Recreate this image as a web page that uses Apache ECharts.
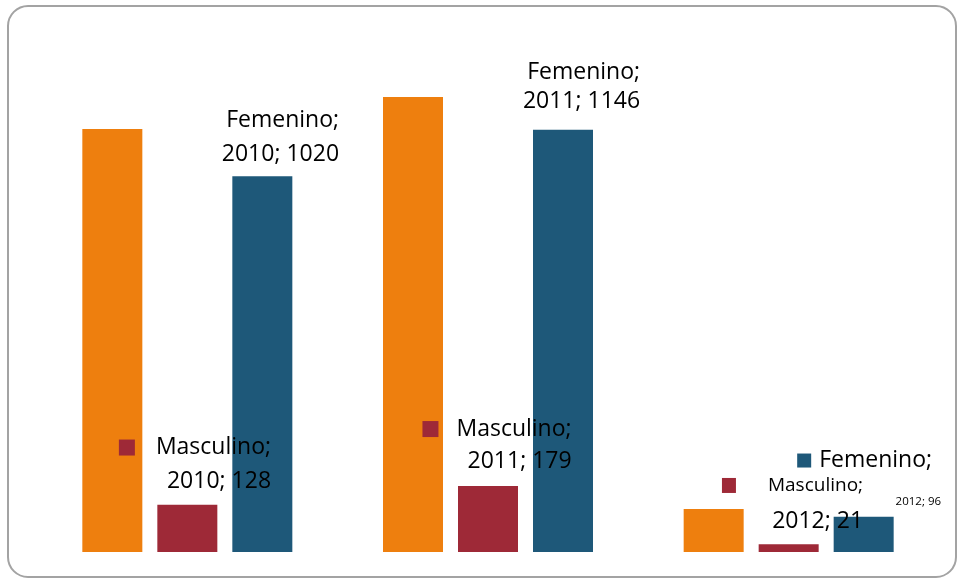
<!DOCTYPE html>
<html>
<head>
<meta charset="utf-8">
<script src="https://cdn.jsdelivr.net/npm/echarts@6/dist/echarts.min.js"></script>
<style>
html,body{margin:0;padding:0;background:#fff;}
#chart{width:959px;height:579px;}
</style>
</head>
<body>
<div id="chart"></div>
<script>
// ---- data ----
const categories = ['2010', '2011', '2012'];
const totalName = 'Total';
const masculinoName = 'Masculino';
const femeninoName = 'Femenino';
const totalValues = [1148, 1235, 117];
const masculinoValues = [128, 179, 21];
const femeninoValues = [1020, 1146, 96];

// ---- styles ----
const COL_ORANGE = '#ee7f0e';
const COL_RED = '#9e2937';
const COL_BLUE = '#1e5879';
const FONT = 'Open Sans';

function line1(name) { return name + ';'; }
function line2(cat, v) { return cat + '; ' + v; }

// label configs per data index (positions relative to bar top)
const femLabelCfg = [
  {
    offset: [76.7, -72.9],
    rich: { t: { fontSize: 23, lineHeight: 34, fontFamily: FONT, color: '#000' } },
    fmt: (n, c, v) => '{t|' + line1(n) + '}\n{t|' + line2(c, v) + '}'
  },
  {
    offset: [77.1, -71.9],
    rich: { t: { fontSize: 23, lineHeight: 29, fontFamily: FONT, color: '#000' } },
    fmt: (n, c, v) => '{t|' + line1(n) + '}\n{t|' + line2(c, v) + '}'
  },
  {
    offset: [77.4, -70.1],
    rich: {
      m: { width: 14, height: 14, backgroundColor: COL_BLUE },
      g: { width: 8 },
      t: { fontSize: 23, lineHeight: 28, fontFamily: FONT, color: '#000' },
      p: { width: 9 },
      s: { fontSize: 11.5, lineHeight: 54, fontFamily: FONT, color: '#000' }
    },
    fmt: (n, c, v) => '{m|}{g|}{t|' + line1(n) + '}{p|}\n{s|' + line2(c, v) + '}'
  }
];
const masLabelCfg = [
  {
    offset: [83.7, -74.3],
    rich: {
      m: { width: 16, height: 16, backgroundColor: COL_RED },
      g: { width: 21 },
      t: { fontSize: 23, lineHeight: 34, fontFamily: FONT, color: '#000' }
    },
    fmt: (n, c, v) => '{m|}{g|}{t|' + line1(n) + '}\n{t|' + line2(c, v) + '}'
  },
  {
    offset: [83.6, -73.25],
    rich: {
      m: { width: 16, height: 16, backgroundColor: COL_RED },
      g: { width: 18 },
      t: { fontSize: 23, lineHeight: 32.5, fontFamily: FONT, color: '#000' }
    },
    fmt: (n, c, v) => '{m|}{g|}{t|' + line1(n) + '}\n{t|' + line2(c, v) + '}'
  },
  {
    offset: [74.4, -76.8],
    rich: {
      m: { width: 14, height: 15, backgroundColor: COL_RED },
      g: { width: 32 },
      t: { fontSize: 19, lineHeight: 36, fontFamily: FONT, color: '#000' },
      u: { fontSize: 23, lineHeight: 36, fontFamily: FONT, color: '#000' }
    },
    fmt: (n, c, v) => '{m|}{g|}{t|' + line1(n) + '}\n{u|' + line2(c, v) + '}'
  }
];

function buildData(values, name, cfgs) {
  return values.map((v, i) => {
    const cfg = cfgs[i];
    return {
      value: v,
      label: {
        show: true,
        position: 'top',
        distance: 0,
        align: 'right',
        verticalAlign: 'top',
        offset: cfg.offset,
        rich: cfg.rich,
        formatter: cfg.fmt(name, categories[i], v)
      }
    };
  });
}

const chart = echarts.init(document.getElementById('chart'), null, { renderer: 'canvas' });
chart.setOption({
  animation: false,
  backgroundColor: '#fff',
  textStyle: { fontFamily: FONT },
  graphic: [{
    type: 'rect',
    shape: { x: 8, y: 6, width: 948, height: 571, r: 20 },
    style: { fill: 'none', stroke: '#a3a3a3', lineWidth: 2 },
    z: 100
  }],
  grid: { left: 37, right: 20, top: 73, bottom: 27 },
  xAxis: {
    type: 'category',
    data: categories,
    show: false
  },
  yAxis: {
    type: 'value',
    min: 0,
    max: 1300,
    show: false,
    splitLine: { show: false }
  },
  series: [
    {
      name: totalName, type: 'bar', data: totalValues,
      barWidth: 60, barGap: '25%',
      itemStyle: { color: COL_ORANGE }
    },
    {
      name: masculinoName, type: 'bar',
      data: buildData(masculinoValues, masculinoName, masLabelCfg),
      barWidth: 60, barGap: '25%',
      itemStyle: { color: COL_RED }
    },
    {
      name: femeninoName, type: 'bar',
      data: buildData(femeninoValues, femeninoName, femLabelCfg),
      barWidth: 60, barGap: '25%',
      itemStyle: { color: COL_BLUE }
    }
  ]
});
</script>
</body>
</html>
